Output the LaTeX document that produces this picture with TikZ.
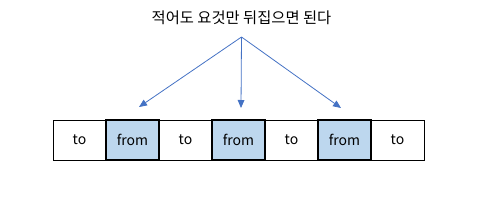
\documentclass[tikz,border=0pt]{standalone}
\usepackage{fontspec}
\setmainfont{Noto Sans CJK KR}
\usetikzlibrary{arrows.meta}

\begin{document}
\begin{tikzpicture}[x=0.75pt,y=-0.75pt,font=\fontsize{10.5}{12}\selectfont,
  cell/.style={draw,rectangle,minimum width=39.75pt,minimum height=30pt,inner sep=0pt,outer sep=0pt,line width=0.6pt},
  fromcell/.style={cell,fill=fromblue,line width=1.3pt},
  link/.style={draw=linkblue,line width=0.6pt,-{Triangle[length=6pt,width=5pt]}}]
  \definecolor{fromblue}{RGB}{189,215,238}
  \definecolor{linkblue}{RGB}{68,114,196}
  \useasboundingbox (0,0) rectangle (478,201);
  \node (title) at (241.5,18) {\fontsize{11.5}{13}\selectfont 적어도 요것만 뒤집으면 된다};
  % cells
  \node[cell] (t1) at (79.5,140) {to};
  \node[cell] (t2) at (185.5,140) {to};
  \node[cell] (t3) at (291.5,140) {to};
  \node[cell] (t4) at (397.5,140) {to};
  \node[fromcell] (f1) at (132.5,140) {from};
  \node[fromcell] (f2) at (238.5,140) {from};
  \node[fromcell] (f3) at (344.5,140) {from};
  % arrows
  \coordinate (src) at (241.5,37);
  \coordinate (e1) at (139,107);
  \coordinate (e2) at (241,108);
  \coordinate (e3) at (341,108);
  \draw[link] (src) -- (e1);
  \draw[link] (src) -- (e2);
  \draw[link] (src) -- (e3);
\end{tikzpicture}
\end{document}
